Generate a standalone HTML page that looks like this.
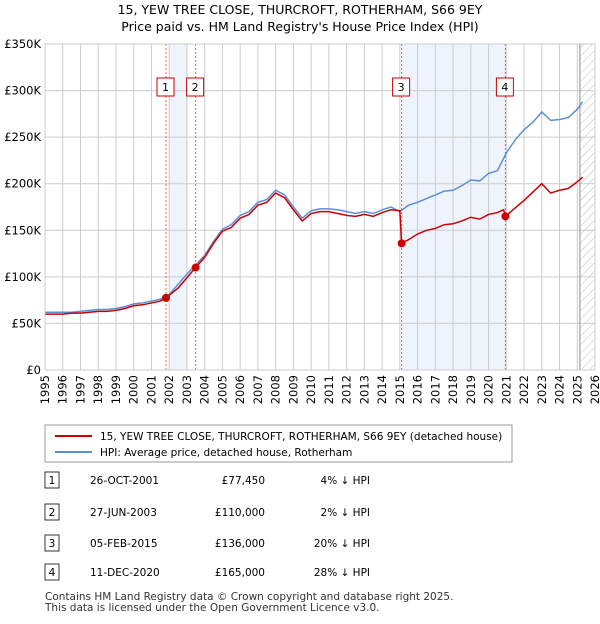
<!DOCTYPE html>
<html><head><meta charset="utf-8"><style>
body{margin:0;background:#fff;font-family:"DejaVu Sans",sans-serif;}
svg text{font-family:"DejaVu Sans",sans-serif;}
</style></head><body>
<svg width="600" height="620" viewBox="0 0 600 620" xmlns="http://www.w3.org/2000/svg">
<defs><pattern id="hatch" width="6" height="6" patternUnits="userSpaceOnUse" patternTransform="rotate(45)"><line x1="0" y1="0" x2="0" y2="6" stroke="#bbb" stroke-width="1"/></pattern></defs>
<text x="300" y="14" text-anchor="middle" font-size="12.5">15, YEW TREE CLOSE, THURCROFT, ROTHERHAM, S66 9EY</text>
<text x="300" y="31" text-anchor="middle" font-size="12.5">Price paid vs. HM Land Registry's House Price Index (HPI)</text>
<g id="plot"></g>
<rect x="45" y="425" width="467" height="37" fill="#fff" stroke="#999"/>
<line x1="55" y1="436" x2="92" y2="436" stroke="#cc0000" stroke-width="2"/>
<text x="100" y="440" font-size="10.5">15, YEW TREE CLOSE, THURCROFT, ROTHERHAM, S66 9EY (detached house)</text>
<line x1="55" y1="452" x2="92" y2="452" stroke="#5b8fd4" stroke-width="2"/>
<text x="100" y="456" font-size="10.5">HPI: Average price, detached house, Rotherham</text>
<g id="table" font-size="10.5"></g>
<text x="45" y="600" font-size="10.5" fill="#333">Contains HM Land Registry data © Crown copyright and database right 2025.</text>
<text x="45" y="611" font-size="10.5" fill="#333">This data is licensed under the Open Government Licence v3.0.</text>
</svg>
<script>
const years=[1995,1995.5,1996,1996.5,1997,1997.5,1998,1998.5,1999,1999.5,2000,2000.5,2001,2001.5,2002,2002.5,2003,2003.5,2004,2004.5,2005,2005.5,2006,2006.5,2007,2007.5,2008,2008.5,2009,2009.5,2010,2010.5,2011,2011.5,2012,2012.5,2013,2013.5,2014,2014.5,2015,2015.5,2016,2016.5,2017,2017.5,2018,2018.5,2019,2019.5,2020,2020.5,2021,2021.5,2022,2022.5,2023,2023.5,2024,2024.5,2025,2025.3];
const hpi=[62,62,62,62,63,64,65,65,66,68,71,72,74,76,81,92,103,113,123,138,151,156,166,170,180,183,193,188,175,163,171,173,173,172,170,168,170,168,172,175,170,177,180,184,188,192,193,198,204,203,211,214,233,247,258,266,277,268,269,271,280,288];
const paidYears=[1995,1995.5,1996,1996.5,1997,1997.5,1998,1998.5,1999,1999.5,2000,2000.5,2001,2001.5,2001.82,2002.5,2003,2003.49,2004,2004.5,2005,2005.5,2006,2006.5,2007,2007.5,2008,2008.5,2009,2009.5,2010,2010.5,2011,2011.5,2012,2012.5,2013,2013.5,2014,2014.5,2015.0,2015.1,2015.5,2016,2016.5,2017,2017.5,2018,2018.5,2019,2019.5,2020,2020.5,2020.85,2020.95,2021.5,2022,2022.5,2023,2023.5,2024,2024.5,2025,2025.3];
const paid=[60,60,60,61,61,62,63,63,64,66,69,70,72,74,77.45,88,99,110,121,136,149,153,163,167,177,180,190,185,172,160,168,170,170,168,166,165,167,165,169,172,171,136,140,146,150,152,156,157,160,164,162,167,169,172,165,174,182,191,200,190,193,195,202,207];
const saleYears=[2001.82,2003.49,2015.10,2020.95];
const salePrices=[77450,110000,136000,165000];
const saleDates=["26-OCT-2001","27-JUN-2003","05-FEB-2015","11-DEC-2020"];
const salePct=["4% \u2193 HPI","2% \u2193 HPI","20% \u2193 HPI","28% \u2193 HPI"];
const yTicks=[0,50,100,150,200,250,300,350];
const yLabels=["£0","£50K","£100K","£150K","£200K","£250K","£300K","£350K"];
const xTicks=[1995,1996,1997,1998,1999,2000,2001,2002,2003,2004,2005,2006,2007,2008,2009,2010,2011,2012,2013,2014,2015,2016,2017,2018,2019,2020,2021,2022,2023,2024,2025,2026];

const NS="http://www.w3.org/2000/svg";
const X0=45,X1=595,Y0=370,Y1=44;
const xs=y=>X0+(y-1995)/31*(X1-X0);
const ys=v=>Y0-v/350*(Y0-Y1);
const plot=document.getElementById('plot');
function mk(tag,attrs,parent){const e=document.createElementNS(NS,tag);for(const k in attrs)e.setAttribute(k,attrs[k]);(parent||plot).appendChild(e);return e;}
let b=mk('rect',{x:xs(2002.0),y:Y1,width:xs(2003.0)-xs(2002.0),height:Y0-Y1,fill:'#eef3fc'});


b=mk('rect',{x:xs(saleYears[2]),y:Y1,width:xs(saleYears[3])-xs(saleYears[2]),height:Y0-Y1,fill:'#eef3fc'});


b=mk('rect',{x:xs(2025.2),y:Y1,width:X1-xs(2025.2),height:Y0-Y1,fill:'url(#hatch)'});


yTicks.forEach((t,i)=>{
 const l=mk('line',{x1:X0,x2:X1,y1:ys(t),y2:ys(t),stroke:'#ccc'});
 
 
 const tx=mk('text',{x:X0-4,y:ys(t)+4,'text-anchor':'end','font-size':'11.5'});
 
 
 tx.textContent=yLabels[i];
});
xTicks.forEach(t=>{
 const l=mk('line',{x1:xs(t),x2:xs(t),y1:Y1,y2:Y0,stroke:'#ccc'});
 
 
 const tx=mk('text',{x:0,y:0,'font-size':'11.5','text-anchor':'end',transform:`translate(${xs(t)+4},${Y0+5}) rotate(-90)`});
 
 
 tx.textContent=t;
});
let vl=mk('line',{x1:xs(2025.15),x2:xs(2025.15),y1:Y1,y2:Y0,stroke:'#888'});


saleYears.forEach((s,i)=>{
 const l=mk('line',{x1:xs(s),x2:xs(s),y1:Y1,y2:Y0,stroke:'#e06060','stroke-dasharray':'2,2'});
 
 
 const r=mk('rect',{x:xs(s)-9,y:78,width:17,height:18,fill:'#fff',stroke:'#cc0000'});
 
 
 const t=mk('text',{x:xs(s)-0.5,y:91,'text-anchor':'middle','font-size':'11'});
 
 
 t.textContent=i+1;
});
const hp=mk('polyline',{points:years.map((y,i)=>xs(y)+','+ys(hpi[i])).join(' '),fill:'none',stroke:'#5b8fd4','stroke-width':'1.5'});


const pp=mk('polyline',{points:paidYears.map((y,i)=>xs(y)+','+ys(paid[i])).join(' '),fill:'none',stroke:'#cc0000','stroke-width':'1.5'});


saleYears.forEach((s,i)=>{
 const c=mk('circle',{cx:xs(s),cy:ys(salePrices[i]/1000),r:4,fill:'#cc0000'});
 
 
});
let ax=mk('rect',{x:X0,y:Y1,width:X1-X0,height:Y0-Y1,fill:'none',stroke:'#ccc'});


const tb=document.getElementById('table');
const rowY=[482,514,545,574];
saleYears.forEach((s,i)=>{
 const y=rowY[i];
 const r=mk('rect',{x:45,y:y-10,width:14,height:16,fill:'#fff',stroke:'#333'},tb);
 
 
 const vals=[[String(i+1),52,'middle'],[saleDates[i],90,'start'],['£'+salePrices[i].toLocaleString('en-GB'),265,'end'],[salePct[i],370,'end']];
 vals.forEach(v=>{const t=mk('text',{x:v[1],y:y+2,'text-anchor':v[2]},tb);
  
  
  t.textContent=v[0];});
});
</script>
</body></html>
